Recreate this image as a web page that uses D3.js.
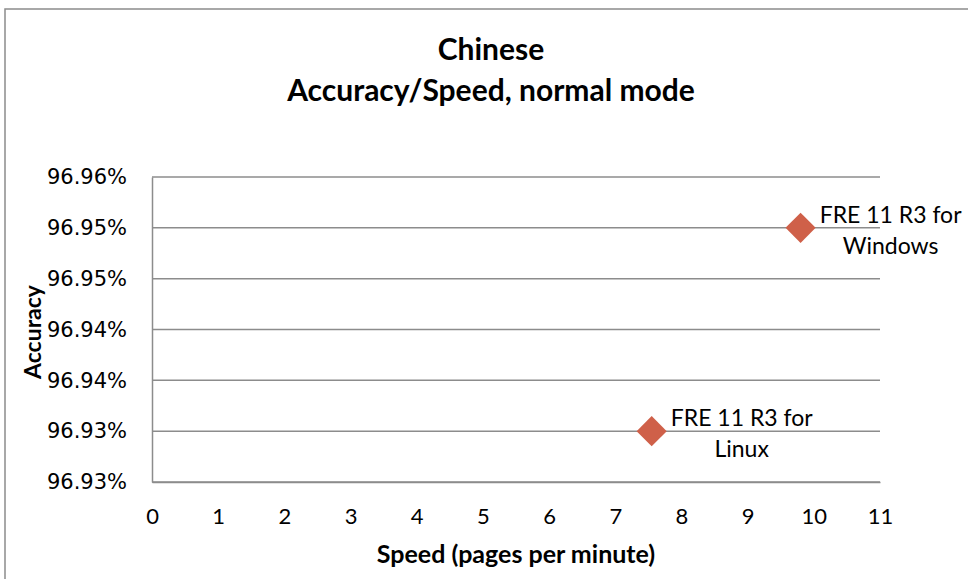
<!DOCTYPE html>
<html>
<head>
<meta charset="utf-8">
<script src="https://cdn.jsdelivr.net/npm/d3@7"></script>
<style>
  body { margin: 0; background: #fff; }
  text { fill: #000; }
</style>
</head>
<body>
<div class="chart"></div>
<script>
// data
const series = ["FRE 11 R3 for Windows", "FRE 11 R3 for Linux"]
const labelLines = [["FRE 11 R3 for", "Windows"], ["FRE 11 R3 for", "Linux"]]
const speed = [9.8, 7.55]
const accuracy = [96.955, 96.935]
const yTicks = [96.930, 96.935, 96.940, 96.945, 96.950, 96.955, 96.960]
const yTickLabels = ["96.93%", "96.93%", "96.94%", "96.94%", "96.95%", "96.95%", "96.96%"]
const xTicks = [0, 1, 2, 3, 4, 5, 6, 7, 8, 9, 10, 11]

var W = 968, H = 579
var margin = {top: 177, right: 88, bottom: 97, left: 152},
    width = W - margin.left - margin.right,
    height = H - margin.top - margin.bottom

const svg = d3.select('.chart').append('svg')
  .attr('width', W).attr('height', H)

// outer chart border (runs off the right/bottom edge)
svg.append('rect')
  .attr('x', 5).attr('y', 9)
  .attr('width', W + 20).attr('height', H + 20)
  .attr('fill', 'none').attr('stroke', '#8c8c8c').attr('stroke-width', 1.5)

const fontMain = "Lato, 'Open Sans', sans-serif"

svg.append('text').attr('x', 491).attr('y', 60)
  .attr('text-anchor', 'middle').attr('font-family', fontMain)
  .attr('font-weight', 'bold').attr('font-size', 30).text('Chinese')
svg.append('text').attr('x', 491).attr('y', 101)
  .attr('text-anchor', 'middle').attr('font-family', fontMain)
  .attr('font-weight', 'bold').attr('font-size', 30).text('Accuracy/Speed, normal mode')

var x = d3.scaleLinear().domain([0, 11]).range([0, width])
var y = d3.scaleLinear().domain([96.930, 96.960]).range([height, 0])

const chart = svg.append('g')
  .attr('transform', 'translate(' + margin.left + ',' + margin.top + ')')

// gridlines
chart.selectAll('.grid').data(yTicks).enter().append('line')
  .attr('x1', 0).attr('x2', width)
  .attr('y1', d => y(d)).attr('y2', d => y(d))
  .attr('stroke', '#8c8c8c').attr('stroke-width', 1.5)

// y axis
const yAxis = d3.axisLeft(y).tickValues(yTicks)
  .tickFormat((d, i) => yTickLabels[i]).tickSize(0).tickPadding(25)
const gy = chart.append('g').call(yAxis)
gy.select('.domain').attr('stroke', '#8c8c8c').attr('stroke-width', 1.5)
gy.selectAll('text').attr('font-family', "'DejaVu Sans', sans-serif")
  .attr('font-size', 21).attr('fill', '#000')

// x axis
const xAxis = d3.axisBottom(x).tickValues(xTicks).tickSize(0).tickPadding(26)
const gx = chart.append('g').attr('transform', 'translate(0,' + height + ')').call(xAxis)
gx.select('.domain').attr('stroke', '#8c8c8c').attr('stroke-width', 1.5)
gx.selectAll('text').attr('font-family', fontMain)
  .attr('font-size', 22).attr('fill', '#000')

// axis titles
svg.append('text').attr('x', 516).attr('y', 563)
  .attr('text-anchor', 'middle').attr('font-family', fontMain)
  .attr('font-weight', 'bold').attr('font-size', 25).text('Speed (pages per minute)')
svg.append('text')
  .attr('transform', 'translate(41,332) rotate(-90)')
  .attr('text-anchor', 'middle').attr('font-family', fontMain)
  .attr('font-weight', 'bold').attr('font-size', 23).text('Accuracy')

// points
const pts = series.map((s, i) => ({name: s, lines: labelLines[i], x: speed[i], y: accuracy[i]}))
chart.selectAll('.pt').data(pts).enter().append('path')
  .attr('d', d3.symbol().type(d3.symbolDiamond2).size(580))
  .attr('transform', d => 'translate(' + x(d.x) + ',' + y(d.y) + ')')
  .attr('fill', '#cf6049')

// data labels
const lab = chart.selectAll('.lab').data(pts).enter().append('text')
  .attr('text-anchor', 'middle').attr('font-family', fontMain).attr('font-size', 23)
  .attr('transform', d => 'translate(' + (x(d.x) + 90) + ',' + y(d.y) + ')')
lab.selectAll('tspan').data(d => d.lines).enter().append('tspan')
  .attr('x', 0).attr('y', (d, i) => i === 0 ? -5 : 26).text(d => d)
</script>
</body>
</html>
